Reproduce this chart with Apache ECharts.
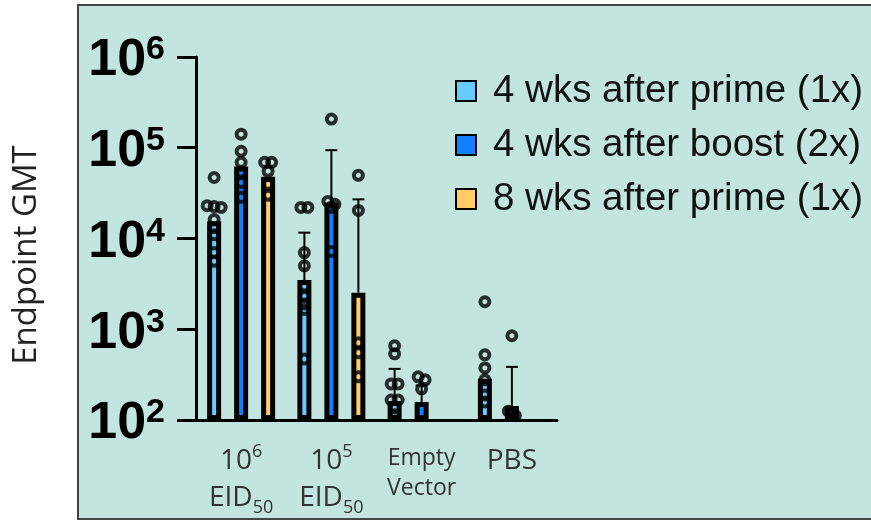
<!DOCTYPE html>
<html><head><meta charset="utf-8">
<script src="https://cdn.jsdelivr.net/npm/echarts@6/dist/echarts.min.js"></script>
<style>html,body{margin:0;padding:0;background:#fff}#c{width:871px;height:527px}</style>
</head><body><div id="c"></div>
<script>
// ---- data ----
const categories = ['10^6 EID50', '10^5 EID50', 'Empty Vector', 'PBS'];
const categoryLabels = [
  '{n|10}{sup|6}\n{n|EID}{sub|50}',
  '{n|10}{sup|5}\n{n|EID}{sub|50}',
  '{s|Empty}\n{s|Vector}',
  '{n|PBS}'
];
const seriesNames = ['4 wks after prime (1x)', '4 wks after boost (2x)', '8 wks after prime (1x)'];

const gmtPrime4 = [15500, 3500, 162, 284];
const gmtBoost4 = [62000, 25000, 158, 143];
const gmtPrime8 = [48000, 2530, null, null];

const errPrime4 = [null, 11600, 366, null];
const errBoost4 = [null, 94000, 240, 385];
const errPrime8 = [null, 27000, null, null];

const ptsPrime4 = [
  [47000, 23000, 22500, 22000, 16200, 13200, 11000, 7000, 5600],
  [22000, 22000, 7000, 5000, 3000, 2300, 1900, 1650, 470],
  [657, 536, 250, 250, 166, 166, 136, 114],
  [2010, 523, 375, 277, 189, 158]
];
const ptsBoost4 = [
  [141000, 91500, 69000, 53600, 41500, 28400],
  [207000, 25600, 23800, 22000, 7180],
  [299, 277, 220],
  [848, 125, 112]
];
const ptsPrime8 = [
  [69000, 69000, 55000, 39500, 29900],
  [49700, 20400, 709, 550, 299],
  [],
  []
];

const yTickMin = 100, yTickMax = 1000000;

// ---- layout / style constants ----
const W = 871, H = 527;
const GRID = {left: 196, right: 314, top: 57, bottom: 107};
const BAR_W = 14, BAR_STEP = 27;
const colors = ['#66CCFF', '#1080FF', '#FFCC66'];
const gridW = W - GRID.left - GRID.right;
const gridH = H - GRID.top - GRID.bottom;
const catW = gridW / categories.length;
const decadePx = gridH / (Math.log10(yTickMax) - Math.log10(yTickMin));
const seriesOffset = [-BAR_STEP / catW, 0, BAR_STEP / catW];

function swarm(vals, ci, si) {
  const sorted = vals.slice().sort((a, b) => b - a);
  const clusters = [];
  sorted.forEach(v => {
    const py = Math.log10(v) * decadePx;
    const last = clusters[clusters.length - 1];
    if (last && Math.abs(last.py - py) < 5) last.items.push(v);
    else clusters.push({py, items: [v]});
  });
  const out = [];
  clusters.forEach(c => {
    const n = c.items.length;
    c.items.forEach((v, k) => {
      const dx = (k - (n - 1) / 2) * 7 / catW;
      out.push([ci + seriesOffset[si] + dx, v]);
    });
  });
  return out;
}

const gmts = [gmtPrime4, gmtBoost4, gmtPrime8];
const errs = [errPrime4, errBoost4, errPrime8];
const pts = [ptsPrime4, ptsBoost4, ptsPrime8];

const series = [];
gmts.forEach((g, si) => {
  series.push({
    type: 'bar', name: seriesNames[si], data: g.map(v => v == null ? '-' : v),
    barWidth: BAR_W, barGap: ((BAR_STEP - BAR_W) / BAR_W * 100) + '%',
    itemStyle: {color: colors[si], borderColor: '#000', borderWidth: 5},
    clip: true, z: 2, emphasis: {disabled: true}
  });
});
errs.forEach((e, si) => {
  const data = [];
  e.forEach((v, ci) => { if (v != null && gmts[si][ci] != null) data.push([ci + seriesOffset[si], gmts[si][ci], v]); });
  series.push({
    type: 'custom', name: 'err' + si, xAxisIndex: 1, yAxisIndex: 0, z: 3,
    encode: {x: 0, y: [1, 2]}, data,
    renderItem: (params, api) => {
      const x = api.value(0), b = api.value(1), t = api.value(2);
      const p0 = api.coord([x, b]), p1 = api.coord([x, t]);
      return {type: 'group', children: [
        {type: 'line', shape: {x1: p0[0], y1: p0[1], x2: p1[0], y2: p1[1]}, style: {stroke: '#000', lineWidth: 2}},
        {type: 'line', shape: {x1: p1[0] - 6, y1: p1[1], x2: p1[0] + 6, y2: p1[1]}, style: {stroke: '#000', lineWidth: 2}}
      ]};
    }
  });
});
pts.forEach((groups, si) => {
  let data = [];
  groups.forEach((vals, ci) => { data = data.concat(swarm(vals, ci, si)); });
  series.push({
    type: 'scatter', name: 'pts' + si, xAxisIndex: 1, yAxisIndex: 0, z: 4,
    symbol: 'circle', symbolSize: 9, data,
    itemStyle: {color: 'rgba(0,0,0,0)', borderColor: '#000', borderWidth: 4},
    emphasis: {disabled: true}
  });
});

const chart = echarts.init(document.getElementById('c'), null, {renderer: 'canvas'});
chart.setOption({
  animation: false,
  backgroundColor: '#fff',
  graphic: [
    {type: 'rect', z: -100, silent: true, shape: {x: 78, y: 5, width: 800, height: 514},
     style: {fill: '#C2E6DF', stroke: '#444', lineWidth: 2}},
    {type: 'text', x: 27, y: 255, rotation: Math.PI / 2, silent: true,
     style: {text: 'Endpoint GMT', font: '33px "Open Sans"', fill: '#222', align: 'center', verticalAlign: 'middle'}}
  ],
  grid: {left: GRID.left, right: GRID.right, top: GRID.top, bottom: GRID.bottom, outerBoundsMode: 'none', containLabel: false},
  legend: {
    data: seriesNames, orient: 'vertical', left: 450, top: 66,
    itemWidth: 20, itemHeight: 20, itemGap: 14, icon: 'rect',
    textStyle: {fontFamily: 'Liberation Sans', fontSize: 38.5, color: '#111', lineHeight: 40, padding: [0, 0, 0, 12]}
  },
  xAxis: [
    {type: 'category', data: categories, gridIndex: 0,
     axisLine: {lineStyle: {color: '#000', width: 3}},
     axisTick: {alignWithLabel: true, length: 10, lineStyle: {color: '#000', width: 3}},
     axisLabel: {interval: 0, margin: 23, color: '#333', formatter: (v, i) => categoryLabels[i],
       rich: {
         n: {fontFamily: 'Open Sans', fontSize: 28, lineHeight: 37, color: '#333'},
         sup: {fontFamily: 'Open Sans', fontSize: 18, lineHeight: 24, verticalAlign: 'top', color: '#333'},
         sub: {fontFamily: 'Open Sans', fontSize: 18, lineHeight: 18, verticalAlign: 'bottom', color: '#333'},
         s: {fontFamily: 'Open Sans', fontSize: 23, lineHeight: 30, color: '#333'}
       }}},
    {type: 'value', gridIndex: 0, min: -0.5, max: categories.length - 0.5, show: false}
  ],
  yAxis: {
    type: 'log', logBase: 10, min: yTickMin, max: yTickMax, startValue: yTickMin,
    axisLine: {show: true, onZero: false, lineStyle: {color: '#000', width: 3}},
    axisTick: {show: true, length: 19, lineStyle: {color: '#000', width: 3}},
    splitLine: {show: false},
    axisLabel: {margin: 31, hideOverlap: false, padding: [8, 0, 0, 0],
      formatter: v => '{b|10}{p|' + Math.round(Math.log10(v)) + '}',
      rich: {
        b: {fontFamily: 'Liberation Sans', fontWeight: 'bold', fontSize: 52, lineHeight: 56, color: '#000'},
        p: {fontFamily: 'Liberation Sans', fontWeight: 'bold', fontSize: 34, lineHeight: 24, verticalAlign: 'top', color: '#000'}
      }}
  },
  series
});
</script></body></html>
